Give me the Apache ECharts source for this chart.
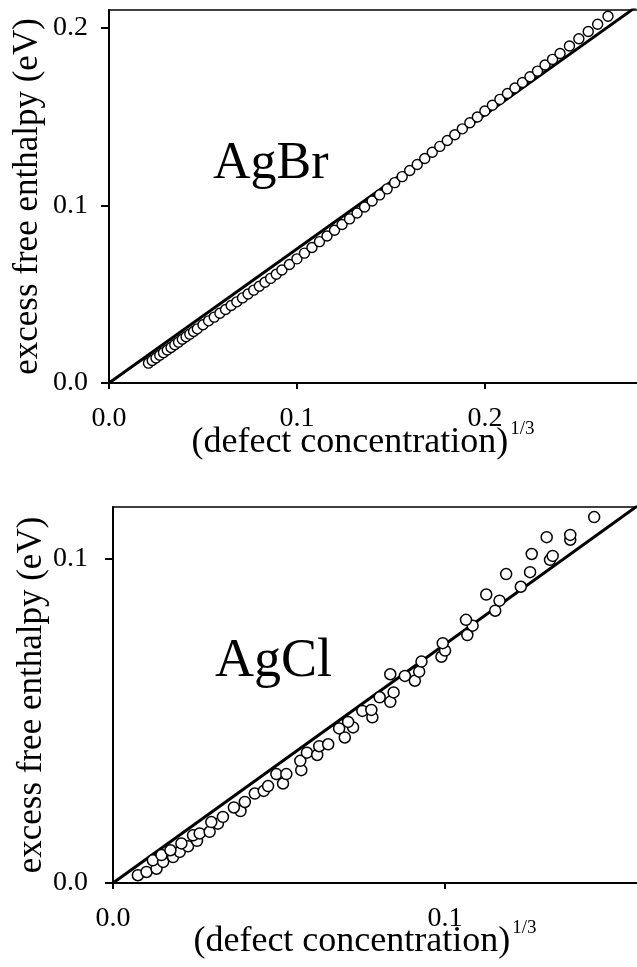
<!DOCTYPE html>
<html>
<head>
<meta charset="utf-8">
<script src="https://cdn.jsdelivr.net/npm/echarts@6/dist/echarts.min.js"></script>
<style>
  html, body { margin: 0; padding: 0; background: #fff; }
  #main { width: 637px; height: 967px; }
</style>
</head>
<body>
<div id="main"></div>
<script>
// AgBr: (defect concentration)^1/3 vs excess free enthalpy (eV)
var agbrX = [0.021, 0.023, 0.025, 0.027, 0.029, 0.031, 0.033, 0.035, 0.037, 0.039,
  0.041, 0.043, 0.045, 0.047, 0.050, 0.053, 0.056, 0.059, 0.062, 0.065,
  0.068, 0.071, 0.074, 0.077, 0.080, 0.083, 0.086, 0.089, 0.092, 0.096,
  0.100, 0.104, 0.108, 0.112, 0.116, 0.120, 0.124, 0.128, 0.132, 0.136,
  0.140, 0.144, 0.148, 0.152, 0.156, 0.160, 0.164, 0.168, 0.172, 0.176,
  0.180, 0.184, 0.188, 0.192, 0.196, 0.200, 0.204, 0.208, 0.212, 0.216,
  0.220, 0.224, 0.228, 0.232, 0.236, 0.240, 0.245, 0.250, 0.255, 0.260, 0.2655];
var agbrY = [0.0112, 0.0127, 0.0141, 0.0156, 0.0171, 0.0186, 0.0200, 0.0215, 0.0230, 0.0246,
  0.0260, 0.0275, 0.0290, 0.0305, 0.0328, 0.0350, 0.0371, 0.0393, 0.0414, 0.0436,
  0.0457, 0.0479, 0.0501, 0.0523, 0.0545, 0.0567, 0.0589, 0.0612, 0.0636, 0.0667,
  0.0699, 0.0731, 0.0763, 0.0796, 0.0828, 0.0860, 0.0892, 0.0924, 0.0957, 0.0991,
  0.1025, 0.1059, 0.1093, 0.1128, 0.1162, 0.1196, 0.1230, 0.1264, 0.1299, 0.1332,
  0.1365, 0.1398, 0.1431, 0.1465, 0.1498, 0.1531, 0.1564, 0.1597, 0.1630, 0.1661,
  0.1692, 0.1724, 0.1756, 0.1790, 0.1822, 0.1855, 0.1897, 0.1938, 0.1979, 0.2020, 0.2065];
var agbrLine = [[0, 0], [0.282, 0.2129]];

// AgCl
var agclX = [0.0075, 0.0101, 0.0131, 0.0120, 0.0151, 0.0146, 0.0181, 0.0201, 0.0173, 0.0226,
  0.0206, 0.0253, 0.0241, 0.0261, 0.0291, 0.0316, 0.0296, 0.0331, 0.0384, 0.0364,
  0.0397, 0.0427, 0.0454, 0.0467, 0.0512, 0.0492, 0.0522, 0.0567, 0.0564, 0.0584,
  0.0615, 0.0621, 0.0648, 0.0698, 0.0681, 0.0723, 0.0708, 0.0751, 0.0781, 0.0778,
  0.0803, 0.0835, 0.0845, 0.0835, 0.0879, 0.0909, 0.0922, 0.0929, 0.0989, 0.1000,
  0.0993, 0.1067, 0.1083, 0.1063, 0.1151, 0.1164, 0.1124, 0.1228, 0.1184, 0.1256,
  0.1316, 0.1324, 0.1261, 0.1306, 0.1377, 0.1377, 0.1449, 0.1477];
var agclY = [0.0024, 0.0034, 0.0044, 0.0070, 0.0065, 0.0086, 0.0080, 0.0096, 0.0101, 0.0113,
  0.0122, 0.0130, 0.0147, 0.0153, 0.0158, 0.0183, 0.0188, 0.0204, 0.0222, 0.0233,
  0.0250, 0.0276, 0.0284, 0.0299, 0.0307, 0.0336, 0.0336, 0.0348, 0.0377, 0.0402,
  0.0395, 0.0422, 0.0428, 0.0449, 0.0477, 0.0480, 0.0497, 0.0531, 0.0511, 0.0534,
  0.0573, 0.0559, 0.0588, 0.0644, 0.0639, 0.0624, 0.0652, 0.0683, 0.0698, 0.0717,
  0.0740, 0.0765, 0.0794, 0.0812, 0.0840, 0.0871, 0.0890, 0.0914, 0.0953, 0.0959,
  0.0997, 0.1009, 0.1015, 0.1067, 0.1059, 0.1074, 0.1129, 0.1162];
var agclLine = [[0, 0], [0.1584, 0.1167]];

var topTicks = [0, 0.1, 0.2];
var botTicks = [0, 0.1];

var serif = "'Liberation Serif', 'DejaVu Serif', serif";

function pairs(xs, ys) {
  return xs.map(function (x, i) { return [x, ys[i]]; });
}

function xAxisCfg(idx, max, ticks, gap) {
  return {
    type: "value", gridIndex: idx, min: 0, max: max,
    name: "{a|(defect concentration)}{b|1/3}",
    nameLocation: "middle", nameGap: gap, nameMoveOverlap: false,
    nameTextStyle: {
      padding: [0, 22, 0, 0],
      rich: {
        a: { fontFamily: serif, fontSize: 36, color: "#000", verticalAlign: "bottom" },
        b: { fontFamily: serif, fontSize: 19, color: "#000", verticalAlign: "top", padding: [0, 0, 22, 2] }
      }
    },
    axisLine: { lineStyle: { color: "#000", width: 2 } },
    axisTick: { customValues: ticks, length: 6, lineStyle: { color: "#000", width: 2 } },
    axisLabel: { customValues: ticks, margin: 22, fontFamily: serif, fontSize: 28, color: "#000",
      formatter: function (v) { return v.toFixed(1); } },
    splitLine: { show: false }
  };
}

function yAxisCfg(idx, max, ticks, margin) {
  return {
    type: "value", gridIndex: idx, min: 0, max: max,
    name: "excess free enthalpy (eV)",
    nameLocation: "middle", nameGap: 64, nameMoveOverlap: false,
    nameTextStyle: { fontFamily: serif, fontSize: 35, color: "#000" },
    axisLine: { lineStyle: { color: "#000", width: 2 } },
    axisTick: { customValues: ticks, length: 8, lineStyle: { color: "#000", width: 2 } },
    axisLabel: { customValues: ticks, margin: margin, fontFamily: serif, fontSize: 28, color: "#000",
      formatter: function (v) { return v.toFixed(1); } },
    splitLine: { show: false }
  };
}

var chart = echarts.init(document.getElementById("main"), null, { renderer: "canvas" });
chart.setOption({
  backgroundColor: "#fff",
  animation: false,
  grid: [
    { left: 109, top: 10, right: -2, bottom: 584, outerBoundsMode: "none", containLabel: false,
      show: true, borderColor: "#000", borderWidth: 1.5 },
    { left: 113, top: 507, right: -2, bottom: 84, outerBoundsMode: "none", containLabel: false,
      show: true, borderColor: "#000", borderWidth: 1.5 }
  ],
  xAxis: [xAxisCfg(0, 0.282, topTicks, 37), xAxisCfg(1, 0.1584, botTicks, 36)],
  yAxis: [yAxisCfg(0, 0.21, topTicks, 21), yAxisCfg(1, 0.116, botTicks, 25)],
  graphic: [
    { type: "text", left: 213, top: 138, style: { text: "AgBr", font: "52px " + serif, fill: "#000" } },
    { type: "text", left: 215, top: 635, style: { text: "AgCl", font: "54px " + serif, fill: "#000" } }
  ],
  series: [
    { type: "line", xAxisIndex: 0, yAxisIndex: 0, data: agbrLine, showSymbol: false, z: 1,
      lineStyle: { color: "#000", width: 3 } },
    { type: "scatter", xAxisIndex: 0, yAxisIndex: 0, data: pairs(agbrX, agbrY), symbol: "circle",
      symbolSize: 10, z: 2, itemStyle: { color: "#fff", opacity: 1, borderColor: "#000", borderWidth: 1.4 } },
    { type: "line", xAxisIndex: 1, yAxisIndex: 1, data: agclLine, showSymbol: false, z: 1,
      lineStyle: { color: "#000", width: 3 } },
    { type: "scatter", xAxisIndex: 1, yAxisIndex: 1, data: pairs(agclX, agclY), symbol: "circle",
      symbolSize: 11, z: 2, itemStyle: { color: "#fff", opacity: 1, borderColor: "#000", borderWidth: 1.5 } }
  ]
});
</script>
</body>
</html>
